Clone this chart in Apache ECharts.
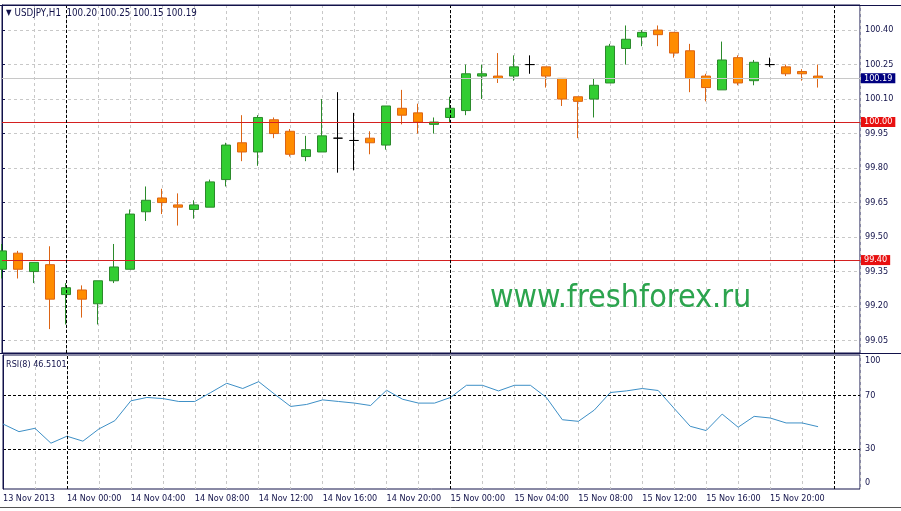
<!DOCTYPE html>
<html>
<head>
<meta charset="utf-8">
<title>USDJPY,H1</title>
<script src="https://cdn.jsdelivr.net/npm/echarts@6/dist/echarts.min.js"></script>
<style>
  html, body { margin: 0; padding: 0; background: #fff; }
  #main { width: 901px; height: 511px; }
</style>
</head>
<body>
<div id="main"></div>
<script>
// USDJPY H1, 13 Nov 20:00 .. 15 Nov 23:00 (one bar per hour)
var symbolName = 'USDJPY,H1';
var xLabels = ['13 Nov 2013', '14 Nov 00:00', '14 Nov 04:00', '14 Nov 08:00', '14 Nov 12:00',
  '14 Nov 16:00', '14 Nov 20:00', '15 Nov 00:00', '15 Nov 04:00', '15 Nov 08:00',
  '15 Nov 12:00', '15 Nov 16:00', '15 Nov 20:00'];

var opens = [99.36, 99.43, 99.35, 99.38, 99.25, 99.27, 99.21, 99.31, 99.36, 99.61,
  99.67, 99.64, 99.62, 99.63, 99.75, 99.91, 99.87, 100.01, 99.96, 99.85,
  99.87, 99.93, 99.92, 99.93, 99.90, 100.06, 100.04, 99.99, 100.02, 100.05,
  100.20, 100.20, 100.20, 100.25, 100.24, 100.19, 100.11, 100.10, 100.17, 100.32,
  100.37, 100.40, 100.39, 100.31, 100.20, 100.14, 100.28, 100.18, 100.25, 100.24,
  100.22, 100.20];
var closes = [99.44, 99.36, 99.39, 99.23, 99.28, 99.23, 99.31, 99.37, 99.60, 99.66,
  99.65, 99.63, 99.64, 99.74, 99.90, 99.87, 100.02, 99.95, 99.86, 99.88,
  99.94, 99.93, 99.92, 99.91, 100.07, 100.03, 100.00, 100.00, 100.06, 100.21,
  100.21, 100.19, 100.24, 100.25, 100.20, 100.10, 100.09, 100.16, 100.33, 100.36,
  100.39, 100.38, 100.30, 100.19, 100.15, 100.27, 100.17, 100.26, 100.25, 100.21,
  100.21, 100.19];
var lows = [99.32, 99.32, 99.30, 99.10, 99.12, 99.15, 99.12, 99.30, 99.36, 99.57,
  99.60, 99.55, 99.58, 99.63, 99.72, 99.83, 99.81, 99.93, 99.85, 99.83,
  99.87, 99.78, 99.79, 99.86, 99.88, 99.99, 99.95, 99.95, 100.00, 100.03,
  100.10, 100.17, 100.18, 100.21, 100.15, 100.07, 99.93, 100.02, 100.17, 100.25,
  100.33, 100.33, 100.28, 100.13, 100.09, 100.14, 100.16, 100.16, 100.24, 100.20,
  100.18, 100.15];
var highs = [99.47, 99.44, 99.39, 99.46, 99.30, 99.29, 99.31, 99.47, 99.62, 99.72,
  99.71, 99.69, 99.66, 99.75, 99.91, 100.03, 100.03, 100.02, 99.97, 99.94,
  100.10, 100.13, 100.04, 99.96, 100.07, 100.14, 100.08, 100.02, 100.11, 100.25,
  100.25, 100.30, 100.29, 100.29, 100.24, 100.19, 100.11, 100.19, 100.34, 100.42,
  100.40, 100.42, 100.39, 100.34, 100.21, 100.35, 100.29, 100.27, 100.28, 100.25,
  100.23, 100.25];

var rsiValues = [48.5, 42.8, 45.3, 34.2, 39.4, 35.7, 44.8, 51.0, 65.8, 68.3,
  67.5, 65.3, 65.3, 72.0, 78.9, 75.0, 80.1, 70.7, 61.6, 63.1,
  66.5, 65.3, 64.1, 62.3, 73.7, 67.0, 64.1, 64.1, 68.3, 77.4,
  77.4, 73.2, 77.4, 77.4, 68.3, 51.7, 50.5, 58.9, 72.0, 73.2,
  75.0, 73.5, 60.1, 46.8, 43.6, 55.9, 46.1, 54.2, 53.0, 49.3,
  49.3, 46.5101];

var priceTicks = [99.05, 99.20, 99.35, 99.50, 99.65, 99.80, 99.95, 100.10, 100.25, 100.40];
var rsiTicks = [0, 30, 70, 100];
var rsiLevels = [30, 70];
var priceLevels = [100.00, 99.40];
var daySeparators = [4, 28, 52];

var font = '"DejaVu Sans Condensed", "DejaVu Sans", sans-serif';
var navy = '#12124a';
var gridGrey = '#c8c8c8';

var last = opens.length - 1;
var lastPrice = closes[last];

var candles = opens.map(function (o, i) {
  return [i, o, closes[i], lows[i], highs[i]];
});
var rsiData = rsiValues.map(function (v, i) {
  return [i, v];
});

function sepLines() {
  return daySeparators.map(function (k) {
    return {
      xAxis: k,
      label: { show: false },
      lineStyle: { color: '#000', type: [3, 2], width: 1 }
    };
  });
}

function levelLine(v, lineColor, boxColor) {
  return {
    yAxis: v,
    lineStyle: { color: lineColor, type: 'solid', width: 1 },
    label: {
      show: true,
      position: 'end',
      distance: 1,
      formatter: v.toFixed(2),
      color: '#fff',
      backgroundColor: boxColor,
      padding: [1, 3, 0, 3],
      fontFamily: font,
      fontSize: 9
    }
  };
}

var chart = echarts.init(document.getElementById('main'), null, { renderer: 'canvas' });

var xAxisBase = {
  type: 'value',
  min: 0,
  max: 53.625,
  interval: 2,
  axisLine: { show: false },
  axisTick: { show: false },
  splitLine: { show: true, lineStyle: { color: gridGrey, type: [3, 3], width: 1 } }
};

var option = {
  animation: false,
  backgroundColor: '#fff',
  title: [{
    left: 6,
    top: 8,
    padding: 0,
    text: '{tri|▼}{t|' + symbolName + '  ' + [opens[last], highs[last], lows[last], closes[last]].map(function (v) {
      return v.toFixed(2);
    }).join(' ') + '}',
    textStyle: {
      fontWeight: 'normal',
      rich: {
        tri: { fontSize: 8, color: navy, fontFamily: font, fontWeight: 'normal', padding: [0, 3, 0, 0] },
        t: { fontSize: 9.7, color: navy, fontFamily: font, fontWeight: 'normal' }
      }
    }
  }, {
    left: 6,
    top: 360,
    padding: 0,
    text: 'RSI(8) ' + rsiValues[last].toFixed(4),
    textStyle: { fontSize: 9, color: navy, fontFamily: font, fontWeight: 'normal' }
  }],
  grid: [{
    left: 2, top: 5, width: 858, height: 348,
    show: true, borderColor: navy, borderWidth: 1, backgroundColor: '#fff'
  }, {
    left: 2, top: 355, width: 858, height: 134,
    show: true, borderColor: navy, borderWidth: 1, backgroundColor: '#fff'
  }],
  xAxis: [
    Object.assign({}, xAxisBase, { gridIndex: 0, axisLabel: { show: false } }),
    Object.assign({}, xAxisBase, {
      gridIndex: 1,
      axisLabel: {
        show: true,
        align: 'left',
        margin: 5,
        color: navy,
        fontFamily: font,
        fontSize: 9,
        formatter: function (v) {
          if (v % 4 !== 0 || v / 4 >= xLabels.length) return '';
          return xLabels[v / 4];
        }
      }
    })
  ],
  yAxis: [{
    gridIndex: 0,
    type: 'value',
    position: 'right',
    min: 98.996,
    max: 100.509,
    axisLine: { show: true, lineStyle: { color: navy } },
    axisTick: { show: true, length: 3, customValues: priceTicks, lineStyle: { color: navy } },
    axisLabel: {
      customValues: priceTicks,
      margin: 5,
      color: navy,
      fontFamily: font,
      fontSize: 9,
      formatter: function (v) { return v.toFixed(2); }
    },
    splitLine: { show: true, lineStyle: { color: gridGrey, type: [3, 3], width: 1 } }
  }, {
    gridIndex: 1,
    type: 'value',
    position: 'right',
    min: 0,
    max: 100,
    axisLine: { show: true, lineStyle: { color: navy } },
    axisTick: { show: false, customValues: rsiLevels },
    axisLabel: {
      customValues: rsiTicks,
      margin: 5,
      color: navy,
      fontFamily: font,
      fontSize: 9,
      formatter: function (v) {
        if (v === 100) return '{top|100}';
        if (v === 0) return '{bot|0}';
        return String(v);
      },
      rich: {
        top: { padding: [12, 0, 0, 0], color: navy, fontFamily: font, fontSize: 9 },
        bot: { padding: [0, 0, 12, 0], color: navy, fontFamily: font, fontSize: 9 }
      }
    },
    splitLine: { show: true, lineStyle: { color: '#000', type: [3, 2], width: 1 } }
  }],
  graphic: [{
    type: 'line', silent: true, z: 100,
    shape: { x1: 0, y1: 5.5, x2: 901, y2: 5.5 },
    style: { stroke: navy, lineWidth: 1 }
  }, {
    type: 'line', silent: true, z: 100,
    shape: { x1: 0, y1: 353.5, x2: 901, y2: 353.5 },
    style: { stroke: navy, lineWidth: 1 }
  }, {
    type: 'line', silent: true, z: 100,
    shape: { x1: 0, y1: 507.5, x2: 901, y2: 507.5 },
    style: { stroke: '#555', lineWidth: 1 }
  }, {
    type: 'text', silent: true, z: 1,
    left: 490, top: 283,
    style: { text: 'www.freshforex.ru', font: '32px ' + font, fill: '#2ca44e' }
  }],
  series: [{
    type: 'candlestick',
    xAxisIndex: 0,
    yAxisIndex: 0,
    barWidth: 9,
    data: candles,
    itemStyle: {
      color: '#32cd32',
      color0: '#ff8c00',
      borderColor: '#2b8a2b',
      borderColor0: '#dc6414',
      borderColorDoji: '#000',
      borderWidth: 1
    },
    markLine: {
      silent: true,
      symbol: ['none', 'none'],
      animation: false,
      data: [levelLine(lastPrice, gridGrey, '#000080')]
        .concat(priceLevels.map(function (v) { return levelLine(v, '#d42020', '#e81010'); }))
        .concat(sepLines())
    }
  }, {
    type: 'line',
    name: 'RSI(8)',
    xAxisIndex: 1,
    yAxisIndex: 1,
    data: rsiData,
    showSymbol: false,
    lineStyle: { color: '#3d8fc6', width: 1 },
    markLine: {
      silent: true,
      symbol: ['none', 'none'],
      animation: false,
      data: sepLines()
    }
  }]
};

try {
  chart.setOption(option);
} catch (e) {
  console.log(e);
}
</script>
</body>
</html>
